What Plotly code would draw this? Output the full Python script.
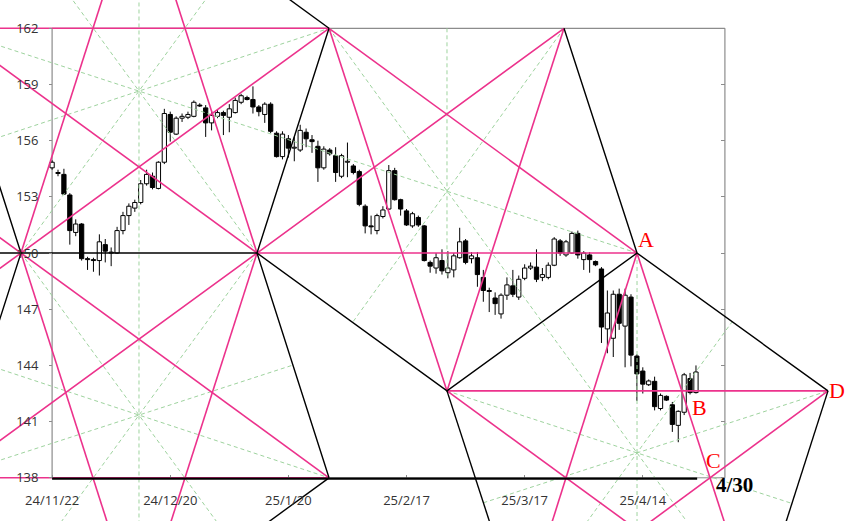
import plotly.graph_objects as go

# ---------------- candle data (trading-day index 0..109) ----------------
open_ = [154.55,154.30,154.20,153.10,151.10,151.55,149.70,149.65,149.60,150.45,
         150.00,150.00,151.20,152.00,152.40,152.70,153.70,154.10,153.45,154.85,
         157.40,156.35,157.20,157.25,157.30,157.90,157.75,156.95,157.30,157.50,
         157.25,157.50,158.05,158.30,158.20,157.80,157.40,157.95,156.40,155.15,
         156.10,155.60,155.50,156.45,156.05,155.70,154.55,155.50,155.20,154.10,
         154.85,154.65,154.35,152.50,151.45,151.20,151.95,152.35,154.40,152.85,
         152.25,151.45,151.90,151.45,149.50,149.20,149.60,148.95,149.10,149.75,
         150.65,149.70,149.75,148.70,148.00,147.60,146.75,147.75,148.25,147.65,
         148.65,149.20,149.25,148.70,148.70,149.35,150.65,149.90,150.00,151.05,
         149.65,149.90,149.55,149.15,145.95,145.45,147.80,146.10,147.65,144.50,
         143.70,142.97,143.15,141.70,142.35,141.90,140.80,141.50,143.30,142.55]
high = [154.95,154.45,154.50,153.20,151.80,151.60,149.80,149.75,151.00,150.75,
        150.30,151.40,152.20,152.65,152.85,153.90,154.45,154.30,154.90,157.70,
        157.55,157.30,157.45,157.55,158.15,158.00,157.90,157.60,157.65,157.60,
        157.95,158.30,158.50,158.40,158.90,157.90,158.05,158.05,156.50,156.50,
        156.30,156.20,156.85,156.65,156.30,156.00,155.70,155.60,155.65,155.30,
        155.90,154.75,154.45,152.60,152.00,152.10,152.50,154.70,154.55,152.90,
        152.35,152.20,152.00,151.50,149.60,150.00,150.20,150.10,150.00,151.35,
        150.75,150.05,150.05,149.10,148.15,147.90,147.85,148.70,149.10,148.80,
        149.40,149.50,150.20,149.20,149.50,150.85,150.75,150.70,151.15,151.20,
        150.10,150.05,149.60,149.25,148.00,148.00,148.10,148.10,147.80,144.60,
        143.90,143.25,143.40,142.50,142.40,142.05,141.60,143.60,143.60,144.00]
low = [154.45,154.10,153.10,150.45,150.90,149.60,149.10,149.00,148.80,149.50,
       149.30,149.95,151.00,151.50,152.20,152.60,153.60,153.40,153.40,154.75,
       155.95,156.30,157.00,157.15,157.25,157.80,156.20,156.55,157.20,156.30,
       156.45,157.45,157.95,158.15,157.45,157.30,156.95,156.40,155.10,155.00,
       155.10,154.90,155.40,155.65,155.35,153.80,154.45,155.20,153.80,154.00,
       154.05,154.20,152.50,151.05,151.00,151.00,151.85,152.30,152.80,152.00,
       151.45,151.35,151.40,149.55,148.95,148.90,148.85,148.65,148.70,149.70,
       149.40,149.45,148.20,147.40,146.85,146.70,146.50,147.50,147.65,147.50,
       148.55,149.10,148.45,148.50,148.60,149.30,149.85,149.80,149.95,149.70,
       149.10,148.95,149.30,145.20,144.65,144.45,145.90,143.90,143.95,142.10,
       142.50,142.90,141.60,141.60,142.10,140.45,139.90,141.35,142.45,142.50]
close = [154.85,154.25,153.15,151.20,151.55,149.70,149.65,149.60,150.60,150.10,
         150.05,151.20,152.00,152.50,152.70,153.70,154.20,153.50,154.85,157.45,
         156.45,157.20,157.30,157.40,158.05,157.85,156.95,157.35,157.50,157.35,
         157.70,158.15,158.40,158.20,157.80,157.55,157.95,156.50,155.15,156.35,
         155.60,155.65,156.55,156.10,155.95,154.55,155.55,155.30,154.30,155.20,
         154.90,154.30,152.60,151.45,151.40,152.00,152.30,154.40,152.85,152.35,
         151.50,152.10,151.50,149.60,149.30,149.75,149.05,149.20,149.85,150.60,
         149.50,149.85,148.85,148.00,147.95,147.30,147.75,148.30,147.80,148.60,
         149.20,149.30,148.60,148.85,149.35,150.75,150.00,150.60,151.05,149.90,
         150.00,149.65,149.37,146.05,146.80,147.80,146.25,147.75,144.55,143.55,
         143.00,143.17,141.80,142.40,142.15,140.85,141.55,143.50,142.55,143.65]

x_tick_idx = [0, 20, 40, 60, 80, 100]
x_tick_text = ["24/11/22", "24/12/20", "25/1/20", "25/2/17", "25/3/17", "25/4/14"]
y_ticks = [138, 141, 144, 147, 150, 153, 156, 159, 162]

# visible window of the figure in data units
X_RANGE = [-8.82, 136.43]
Y_RANGE = [135.694, 163.511]
FRAME_RIGHT = 113.9
AXIS_END = 109.2
Y_MIN, Y_MAX = 138, 162

# ---------------- geometric overlay: lattice points (idx, price) ----------------
V1 = (-5.27, 150.0)
V2 = (34.69, 150.0)
T1 = (46.88, 162.0)
T2 = (86.66, 162.0)
A = (99.02, 150.0)
M = (66.85, 142.64)
D = (131.35, 142.64)
B1 = (46.88, 138.0)
B2 = (87.00, 138.0)
C = (111.38, 138.0)
S1 = (14.71, 158.65)
S2 = (14.71, 141.35)
S3 = (66.85, 153.31)
S4 = (99.02, 139.33)
S3_LOW = 148.8
LEFT_X = -12
TOP_Y, BOT_Y = 164.5, 135.0

PINK = "#EC328C"
GREEN = "#9ed39e"

STEEP = (T1[1] - V2[1]) / (T1[0] - V2[0])
SHALLOW = (T1[1] - V1[1]) / (T1[0] - V1[0])


def at_x(p, q, x):
    t = (x - p[0]) / (q[0] - p[0])
    return (x, p[1] + t * (q[1] - p[1]))


def at_y(p, q, y):
    t = (y - p[1]) / (q[1] - p[1])
    return (p[0] + t * (q[0] - p[0]), y)


def ray(p, slope, y_end):
    return (p[0] + (y_end - p[1]) / slope, y_end)


def cross(p1, p2, p3, p4):
    x1, y1 = p1; x2, y2 = p2; x3, y3 = p3; x4, y4 = p4
    d = (x1 - x2) * (y3 - y4) - (y1 - y2) * (x3 - x4)
    a = x1 * y2 - y1 * x2
    b = x3 * y4 - y3 * x4
    return ((a * (x3 - x4) - (x1 - x2) * b) / d, (a * (y3 - y4) - (y1 - y2) * b) / d)


K11_END = at_y(T1, M, BOT_Y)
K13_END = ray(D, STEEP, BOT_Y)

black_lines = [
    [(LEFT_X, 150.0), V2],
    [ray(V1, -STEEP, TOP_Y), V1, ray(V1, STEEP, BOT_Y)],
    [T1, V2, B1],
    [at_x(A, T1, 30), T1],
    [T2, A, D],
    [V2, M, A],
    [M, K11_END],
    [B1, ray(B1, SHALLOW, BOT_Y)],
    [D, K13_END],
]

pink_lines = [
    [(LEFT_X, 162.0), T1],
    [V2, A],
    [(LEFT_X, 138.0), B1],
    [M, D],
    [ray(V2, -SHALLOW, TOP_Y), V2],
    [T1, A],
    [T2, V2, ray(V2, SHALLOW, BOT_Y)],
    [ray(V1, -SHALLOW, 152.0), V1, B1],
    [ray(V1, SHALLOW, 148.0), V1, T1],
    [V1, ray(V1, STEEP, TOP_Y)],
    [V1, ray(V1, -STEEP, BOT_Y)],
    [V2, ray(V2, -STEEP, TOP_Y)],
    [V2, ray(V2, STEEP, BOT_Y)],
    [T1, M],
    [T2, M],
    [A, at_y(A, B2, BOT_Y)],
    [A, at_y(A, C, BOT_Y)],
    [M, at_y(M, B2, BOT_Y)],
    [D, at_y(D, C, BOT_Y)],
]

S3m = (S3[0], 2 * 150.0 - S3[1])
T1m = (2 * S4[0] - T1[0], T1[1])
green_lines = [
    [(S1[0], TOP_Y), (S1[0], BOT_Y)],
    [at_x(S1, S3, LEFT_X), S1, S3, A],
    [at_x(T1, S1, LEFT_X), T1],
    [V1, at_y(V1, S1, TOP_Y)],
    [V2, at_y(V2, S1, TOP_Y)],
    [V1, at_y(V1, S2, BOT_Y)],
    [V2, at_y(V2, S2, BOT_Y)],
    [at_x(S2, S3m, LEFT_X), cross(S2, S3m, V2, B1)],
    [at_x(B1, S2, LEFT_X), B1],
    [(S3[0], Y_MAX), (S3[0], S3_LOW)],
    [T1, at_y(T1, S4, BOT_Y)],
    [T2, cross(T2, S3, V2, M)],
    [M, cross(M, S4, D, K13_END)],
    [cross(D, S4, M, K11_END), D],
    [A, (A[0], BOT_Y)],
    [at_y(S4, T1m, BOT_Y), cross(S4, T1m, A, D)],
]


def poly_xy(lines):
    xs, ys = [], []
    for ln in lines:
        for p in ln:
            xs.append(p[0]); ys.append(p[1])
        xs.append(None); ys.append(None)
    return xs, ys


fig = go.Figure()

# candle bodies
idx = list(range(len(open_)))
up = [i for i in idx if close[i] >= open_[i]]
dn = [i for i in idx if close[i] < open_[i]]
MIN_BODY = 0.04
fig.add_trace(go.Bar(
    x=up, base=[open_[i] for i in up],
    y=[max(close[i] - open_[i], MIN_BODY) for i in up],
    width=0.72, marker=dict(color="white", line=dict(color="black", width=1)),
    hoverinfo="skip"))
fig.add_trace(go.Bar(
    x=dn, base=[close[i] for i in dn],
    y=[max(open_[i] - close[i], MIN_BODY) for i in dn],
    width=0.72, marker=dict(color="black", line=dict(color="black", width=1)),
    hoverinfo="skip"))

# wicks (drawn outside bodies)
wx, wy = [], []
for i in idx:
    top = max(open_[i], close[i]); bot = min(open_[i], close[i])
    wx += [i, i, None, i, i, None]
    wy += [high[i], top, None, bot, low[i], None]
fig.add_trace(go.Scatter(x=wx, y=wy, mode="lines",
                         line=dict(color="black", width=1), hoverinfo="skip"))

gx, gy = poly_xy(green_lines)
fig.add_trace(go.Scatter(x=gx, y=gy, mode="lines",
                         line=dict(color=GREEN, width=1, dash="4px,3px"), hoverinfo="skip"))
px_, py_ = poly_xy(pink_lines)
fig.add_trace(go.Scatter(x=px_, y=py_, mode="lines",
                         line=dict(color=PINK, width=1.6), hoverinfo="skip"))
bx, by = poly_xy(black_lines)
fig.add_trace(go.Scatter(x=bx, y=by, mode="lines",
                         line=dict(color="black", width=1.4), hoverinfo="skip"))

# frame
GRAY = "#8c8c8c"
shapes = [
    dict(type="line", xref="x", yref="y", x0=0, x1=0, y0=Y_MIN, y1=Y_MAX,
         line=dict(color=GRAY, width=1.2), layer="below"),
    dict(type="line", xref="x", yref="y", x0=0, x1=FRAME_RIGHT, y0=Y_MAX, y1=Y_MAX,
         line=dict(color=GRAY, width=1.2), layer="below"),
    dict(type="line", xref="x", yref="y", x0=FRAME_RIGHT, x1=FRAME_RIGHT, y0=Y_MIN, y1=Y_MAX,
         line=dict(color=GRAY, width=1.2), layer="below"),
    dict(type="line", xref="x", yref="y", x0=0, x1=FRAME_RIGHT, y0=Y_MIN, y1=Y_MIN,
         line=dict(color=GRAY, width=1), layer="below"),
    dict(type="line", xref="x", yref="y", x0=0, x1=AXIS_END, y0=Y_MIN - 0.04, y1=Y_MIN - 0.04,
         line=dict(color="black", width=2.2), layer="above"),
]

# labels
label_text = ["A", "B", "C", "D"]
label_pos = [(A[0] + 1.52, A[1] + 0.72), (109.68, 141.75), (112.05, 138.92), (D[0] + 1.52, D[1] + 0.02)]
annotations = []
for t, (lx, ly) in zip(label_text, label_pos):
    annotations.append(dict(x=lx, y=ly, xref="x", yref="y", text=t, showarrow=False,
                            font=dict(family="Liberation Serif", size=22, color="#ff0000")))
annotations.append(dict(x=115.44, y=137.62, xref="x", yref="y", text="<b>4/30</b>", showarrow=False,
                        font=dict(family="Liberation Serif", size=21, color="black")))

span_x = X_RANGE[1] - X_RANGE[0]
span_y = Y_RANGE[1] - Y_RANGE[0]
TICKFONT = dict(family="Open Sans", size=13, color="#333333")

fig.update_layout(
    width=858, height=521, margin=dict(l=0, r=0, t=0, b=0, pad=0),
    paper_bgcolor="white", plot_bgcolor="white", showlegend=False,
    barmode="overlay", shapes=shapes, annotations=annotations,
    xaxis=dict(range=X_RANGE, domain=[0, 1], anchor="free",
               position=(Y_MIN - Y_RANGE[0]) / span_y,
               showgrid=False, zeroline=False, showline=False,
               tickmode="array", tickvals=x_tick_idx, ticktext=x_tick_text,
               ticks="inside", ticklen=3, tickcolor=GRAY, tickfont=TICKFONT,
               ticklabelstandoff=13, automargin=False, fixedrange=True),
    yaxis=dict(range=Y_RANGE, domain=[0, 1], anchor="free",
               position=(0 - X_RANGE[0]) / span_x, side="left",
               showgrid=False, zeroline=False, showline=False,
               tickmode="array", tickvals=y_ticks, ticks="outside", ticklen=3,
               tickcolor=GRAY, tickfont=TICKFONT, ticklabelstandoff=8,
               automargin=False, fixedrange=True),
    yaxis2=dict(range=Y_RANGE, domain=[0, 1], anchor="free", overlaying="y",
                position=(FRAME_RIGHT - X_RANGE[0]) / span_x, side="right",
                showgrid=False, zeroline=False, showline=False,
                tickmode="array", tickvals=y_ticks, ticks="inside", ticklen=4,
                tickcolor=GRAY, showticklabels=False, automargin=False, fixedrange=True),
)
# dummy trace to show the right-hand tick axis
fig.add_trace(go.Scatter(x=[None], y=[None], yaxis="y2", showlegend=False, hoverinfo="skip"))

fig.write_html("out.html", config={"displayModeBar": False},
               post_script="document.body.style.margin='0';document.body.style.overflow='hidden';")
